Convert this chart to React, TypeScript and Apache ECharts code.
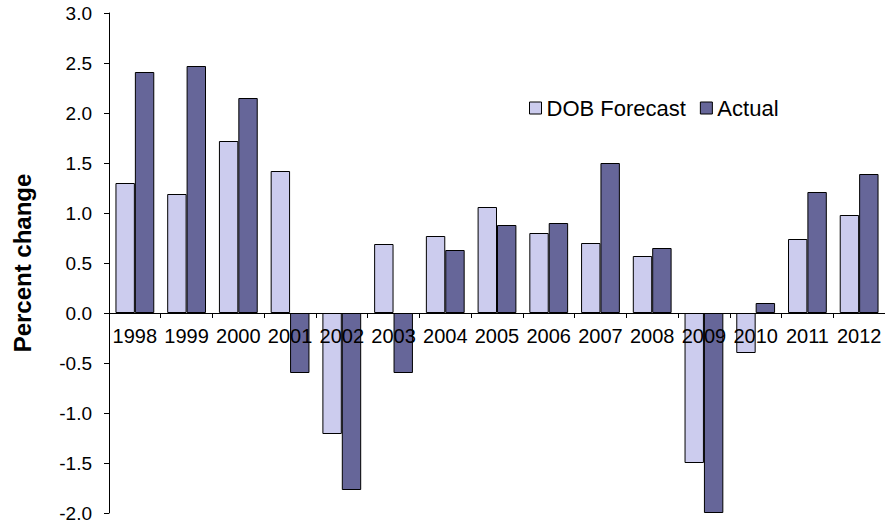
import React, { useEffect, useRef } from "react";
import * as echarts from "echarts";

const years = ["1998","1999","2000","2001","2002","2003","2004","2005","2006","2007","2008","2009","2010","2011","2012"];
const forecast = [1.30, 1.19, 1.72, 1.42, -1.21, 0.69, 0.77, 1.06, 0.80, 0.70, 0.57, -1.50, -0.40, 0.74, 0.98];
const actual = [2.41, 2.47, 2.15, -0.60, -1.77, -0.60, 0.63, 0.88, 0.90, 1.50, 0.65, -2.0, 0.10, 1.21, 1.39];
const yMin = -2.0;
const yMax = 3.0;
const yStep = 0.5;

const FONT = "Liberation Sans, Arial, sans-serif";

export default function App() {
  const ref = useRef<HTMLDivElement>(null);
  useEffect(() => {
    if (!ref.current) return;
    const chart = echarts.init(ref.current, undefined, { renderer: "svg" });
    chart.setOption({
      animation: false,
      backgroundColor: "#ffffff",
      textStyle: { fontFamily: FONT },
      grid: { left: 109, right: 0, top: 13, bottom: 14, containLabel: false, outerBoundsMode: "none" },
      legend: {
        left: 524,
        top: 92,
        itemWidth: 12,
        itemHeight: 12,
        itemGap: 14,
        icon: "rect",
        textStyle: { fontSize: 22, color: "#000", fontFamily: FONT },
        data: [
          { name: "DOB Forecast", itemStyle: { borderColor: "#000", borderWidth: 1 } },
          { name: "Actual", itemStyle: { borderColor: "#000", borderWidth: 1 } },
        ],
      },
      xAxis: {
        type: "category",
        data: years,
        z: 10,
        axisLine: { onZero: true, lineStyle: { color: "#000", width: 1 } },
        axisTick: { show: true, length: 5, lineStyle: { color: "#000" } },
        axisLabel: { show: false },
      },
      yAxis: {
        type: "value",
        min: yMin,
        max: yMax,
        interval: yStep,
        name: "Percent change",
        nameLocation: "middle",
        nameGap: 75,
        nameTextStyle: { fontSize: 24, fontWeight: "bold", color: "#000", fontFamily: FONT },
        splitLine: { show: false },
        axisLine: { show: true, lineStyle: { color: "#000", width: 1 } },
        axisTick: { show: true, length: 5, lineStyle: { color: "#000" } },
        axisLabel: {
          color: "#000",
          fontSize: 19,
          margin: 17,
          fontFamily: FONT,
          formatter: (v: number) => v.toFixed(1),
        },
      },
      series: [
        {
          name: "DOB Forecast",
          type: "bar",
          data: forecast,
          barGap: "0%",
          barCategoryGap: "25%",
          itemStyle: { color: "#CCCCEE", borderColor: "#000", borderWidth: 1 },
        },
        {
          name: "Actual",
          type: "bar",
          data: actual,
          barGap: "0%",
          barCategoryGap: "25%",
          itemStyle: { color: "#666699", borderColor: "#000", borderWidth: 1 },
        },
        {
          name: "yearLabels",
          type: "scatter",
          silent: true,
          z: 20,
          symbolSize: 0,
          itemStyle: { opacity: 1 },
          data: years.map((y) => [y, 0]),
          label: {
            show: true,
            position: "bottom",
            distance: 13,
            color: "#000",
            opacity: 1,
            fontSize: 20,
            fontFamily: FONT,
            formatter: (p: any) => years[p.dataIndex],
          },
        },
      ],
    });
    return () => chart.dispose();
  }, []);
  return <div ref={ref} style={{ width: 885, height: 527, position: "absolute", left: 0, top: 0 }} />;
}
